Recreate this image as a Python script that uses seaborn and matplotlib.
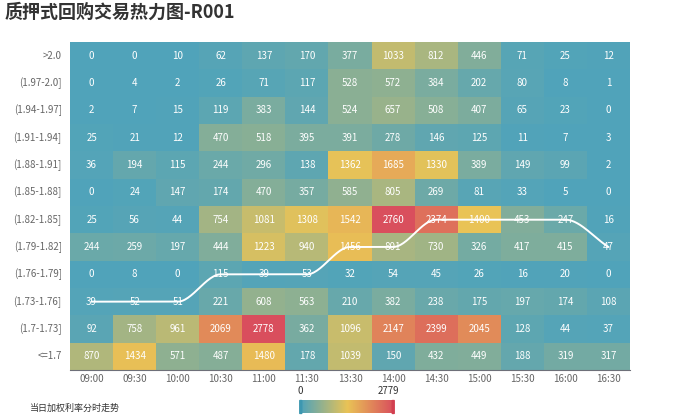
import numpy as np
import pandas as pd
import matplotlib
matplotlib.use("Agg")
import matplotlib.pyplot as plt
from matplotlib.colors import LinearSegmentedColormap
from matplotlib.patches import FancyBboxPatch
import seaborn as sns

sns.set_style("white")
plt.rcParams['font.family'] = ['Noto Sans CJK SC', 'DejaVu Sans']

title = "质押式回购交易热力图-R001"
line_name = "当日加权利率分时走势"

times = ["09:00", "09:30", "10:00", "10:30", "11:00", "11:30", "13:30",
         "14:00", "14:30", "15:00", "15:30", "16:00", "16:30"]
rates = [">2.0", "(1.97-2.0]", "(1.94-1.97]", "(1.91-1.94]", "(1.88-1.91]",
         "(1.85-1.88]", "(1.82-1.85]", "(1.79-1.82]", "(1.76-1.79]",
         "(1.73-1.76]", "(1.7-1.73]", "<=1.7"]

r_gt200 = [0, 0, 10, 62, 137, 170, 377, 1033, 812, 446, 71, 25, 12]
r_197_200 = [0, 4, 2, 26, 71, 117, 528, 572, 384, 202, 80, 8, 1]
r_194_197 = [2, 7, 15, 119, 383, 144, 524, 657, 508, 407, 65, 23, 0]
r_191_194 = [25, 21, 12, 470, 518, 395, 391, 278, 146, 125, 11, 7, 3]
r_188_191 = [36, 194, 115, 244, 296, 138, 1362, 1685, 1330, 389, 149, 99, 2]
r_185_188 = [0, 24, 147, 174, 470, 357, 585, 805, 269, 81, 33, 5, 0]
r_182_185 = [25, 56, 44, 754, 1081, 1308, 1542, 2760, 2374, 1400, 453, 247, 16]
r_179_182 = [244, 259, 197, 444, 1223, 940, 1456, 801, 730, 326, 417, 415, 47]
r_176_179 = [0, 8, 0, 115, 39, 53, 32, 54, 45, 26, 16, 20, 0]
r_173_176 = [39, 52, 51, 221, 608, 563, 210, 382, 238, 175, 197, 174, 108]
r_170_173 = [92, 758, 961, 2069, 2778, 362, 1096, 2147, 2399, 2045, 128, 44, 37]
r_le170 = [870, 1434, 571, 487, 1480, 178, 1039, 150, 432, 449, 188, 319, 317]

# weighted-rate trend: rate bucket at each time
trend = ["(1.73-1.76]", "(1.73-1.76]", "(1.73-1.76]", "(1.76-1.79]",
         "(1.76-1.79]", "(1.76-1.79]", "(1.79-1.82]", "(1.79-1.82]",
         "(1.82-1.85]", "(1.82-1.85]", "(1.82-1.85]", "(1.82-1.85]",
         "(1.79-1.82]"]

vmin, vmax = 0, 2779
colors = ['#50a3ba', '#e9c356', '#d94e5d']

matrix = [r_gt200, r_197_200, r_194_197, r_191_194, r_188_191, r_185_188,
          r_182_185, r_179_182, r_176_179, r_173_176, r_170_173, r_le170]
df = pd.DataFrame(matrix, index=rates, columns=times)

cmap = LinearSegmentedColormap.from_list("vm", colors)

W, H = 700, 420
fig = plt.figure(figsize=(7, 4.2), dpi=100)
x0, x1, y0, y1 = 70, 630, 42, 370
ax = fig.add_axes([x0 / W, 1 - y1 / H, (x1 - x0) / W, (y1 - y0) / H])
sns.heatmap(df, cmap=cmap, vmin=vmin, vmax=vmax, annot=True, fmt='d',
            annot_kws={'color': 'white', 'fontsize': 7}, cbar=False, ax=ax,
            linewidths=0)

ax.set_xticks(np.arange(len(times)) + 0.5)
ax.set_xticklabels(times, rotation=0, fontsize=7, color='#666666')
ax.set_yticks(np.arange(len(rates)) + 0.5)
ax.set_yticklabels(rates, rotation=0, fontsize=7, color='#666666')
ax.set_xticks(np.arange(len(times) + 1), minor=True)
ax.set_yticks(np.arange(len(rates) + 1), minor=True)
ax.tick_params(axis='x', which='major', length=0, pad=3)
ax.tick_params(axis='y', which='major', length=0, pad=6)
ax.tick_params(which='minor', length=4, color='#6e7079', width=0.8)
ax.set_xlabel("")
ax.set_ylabel("")
ax.spines['bottom'].set_visible(True)
ax.spines['bottom'].set_color('#6e7079')
ax.spines['bottom'].set_linewidth(0.8)


# smooth line (monotone cubic through the category centres)
def monotone(xs, ys, n=30):
    xs = np.asarray(xs, float); ys = np.asarray(ys, float)
    h = np.diff(xs); d = np.diff(ys) / h
    m = np.zeros_like(ys)
    m[0] = d[0]; m[-1] = d[-1]
    for i in range(1, len(ys) - 1):
        if d[i - 1] * d[i] <= 0:
            m[i] = 0
        else:
            m[i] = 2 / (1 / d[i - 1] + 1 / d[i])
    outx, outy = [], []
    for i in range(len(xs) - 1):
        t = np.linspace(0, 1, n)
        h00 = 2 * t**3 - 3 * t**2 + 1; h10 = t**3 - 2 * t**2 + t
        h01 = -2 * t**3 + 3 * t**2; h11 = t**3 - t**2
        outx.extend(xs[i] + t * h[i])
        outy.extend(h00 * ys[i] + h10 * h[i] * m[i] + h01 * ys[i + 1] + h11 * h[i] * m[i + 1])
    return np.array(outx), np.array(outy)

lx = np.arange(len(times)) + 0.5
ly = [rates.index(r) + 0.5 for r in trend]
sx, sy = monotone(lx, ly)
ax.plot(sx, sy, color='white', lw=1.4, zorder=5)

# title
fig.text(5 / W, 1 - 12 / H, title, fontsize=13, fontweight='bold',
         color='#333333', ha='left', va='center')
fig.text(30 / W, 1 - 408 / H, line_name, fontsize=6.5, color='#333333',
         ha='left', va='center')

# continuous colour scale
cax = fig.add_axes([298 / W, 1 - 414 / H, 98 / W, 14 / H])
grad = np.linspace(vmin, vmax, 256).reshape(1, -1)
cax.imshow(grad, aspect='auto', cmap=cmap, vmin=vmin, vmax=vmax,
           extent=[0, 1, 0, 1])
cax.set_xlim(-0.03, 1.03)
cax.set_ylim(-0.05, 1.05)
cax.axis('off')
for xp, c in [(0, '#3d97b0'), (1, '#d23f50')]:
    cax.add_patch(FancyBboxPatch((xp - 0.012, -0.02), 0.024, 1.04,
                                 boxstyle="round,pad=0,rounding_size=0.01",
                                 fc=c, ec=c, lw=0.8, zorder=5, clip_on=False))
fig.text(297 / W, 1 - 391 / H, str(vmin), fontsize=7, color='#333333',
         ha='left', va='center')
fig.text(399 / W, 1 - 391 / H, str(vmax), fontsize=7, color='#333333',
         ha='right', va='center')

fig.savefig("out.png", dpi=100)
